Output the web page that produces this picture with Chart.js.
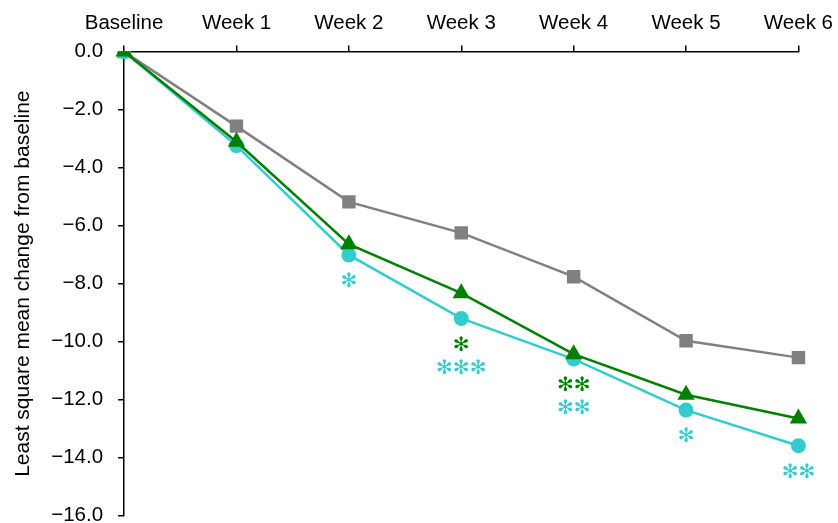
<!DOCTYPE html>
<html>
<head>
<meta charset="utf-8">
<script src="https://cdn.jsdelivr.net/npm/chart.js@4"></script>
<style>
  html, body { margin: 0; padding: 0; background: #fff; overflow: hidden; }
  #wrap { width: 843px; height: 543px; }
</style>
</head>
<body>
<div id="wrap"><canvas id="chart"></canvas></div>
<script>
'use strict';

const weeks = ['Baseline', 'Week 1', 'Week 2', 'Week 3', 'Week 4', 'Week 5', 'Week 6'];
const grayValues  = [0, -2.57, -5.18, -6.25, -7.76, -9.97, -10.55];
const greenValues = [0, -3.11, -6.64, -8.33, -10.43, -11.83, -12.65];
const cyanValues  = [0, -3.24, -7.01, -9.20, -10.60, -12.36, -13.59];
// significance marks shown under each time point
const greenStars = ['', '', '', '*', '**', '', ''];
const cyanStars  = ['', '', '*', '***', '**', '*', '**'];

const GRAY = '#808080';
const GREEN = '#008000';
const CYAN = '#33CCCC';
const FONT = '"Liberation Sans", Arial, Helvetica, sans-serif';

const starsPlugin = {
  id: 'stars',
  afterDatasetsDraw(chart) {
    const ctx = chart.ctx;
    const x = chart.scales.x;
    const y = chart.scales.y;
    ctx.save();
    ctx.font = '20px "DejaVu Sans"';
    ctx.textAlign = 'center';
    ctx.textBaseline = 'middle';
    for (let i = 0; i < weeks.length; i++) {
      const px = x.getPixelForValue(i);
      let py = y.getPixelForValue(cyanValues[i]) + 27;
      const lines = [[greenStars[i], GREEN], [cyanStars[i], CYAN]];
      for (const [txt, color] of lines) {
        if (!txt) continue;
        ctx.fillStyle = color;
        ctx.fillText(txt.split('').map(() => '\u273B').join(''), px, py);
        py += 23;
      }
    }
    ctx.restore();
  }
};

const line = (label, data, color, style, radius, order) => ({
  label: label,
  data: data,
  borderColor: color,
  backgroundColor: color,
  borderWidth: 2.5,
  pointStyle: style,
  pointRadius: radius,
  pointHoverRadius: radius,
  pointBorderWidth: 0,
  tension: 0,
  order: order
});

new Chart(document.getElementById('chart'), {
  type: 'line',
  data: {
    labels: weeks,
    datasets: [
      line('Gray', grayValues, GRAY, 'rect', 9.5, 2),
      line('Green', greenValues, GREEN, 'triangle', 10, 0),
      line('Cyan', cyanValues, CYAN, 'circle', 7.5, 1)
    ]
  },
  options: {
    responsive: true,
    maintainAspectRatio: false,
    animation: false,
    layout: { padding: { left: 11, right: 0, top: 1, bottom: 0 } },
    plugins: { legend: { display: false }, tooltip: { enabled: false } },
    scales: {
      x: {
        position: 'top',
        offset: false,
        grid: { drawOnChartArea: false, tickLength: 6, color: '#000', lineWidth: 1.5 },
        border: { color: '#000', width: 1.5 },
        ticks: { color: '#000', font: { family: FONT, size: 20.5 }, maxRotation: 0, padding: 10 }
      },
      y: {
        min: -16,
        max: 0,
        grid: { drawOnChartArea: false, tickLength: 6, color: '#000', lineWidth: 1.5 },
        border: { color: '#000', width: 1.5 },
        ticks: {
          stepSize: 2,
          color: '#000',
          font: { family: FONT, size: 20.5 },
          padding: 15,
          callback: v => (v < 0 ? '\u2212' + Math.abs(v).toFixed(1) : v.toFixed(1))
        },
        title: {
          display: true,
          text: 'Least square mean change from baseline',
          color: '#000',
          font: { family: FONT, size: 21 },
          padding: { top: 0, bottom: 0 }
        }
      }
    }
  },
  plugins: [starsPlugin]
});
</script>
</body>
</html>
